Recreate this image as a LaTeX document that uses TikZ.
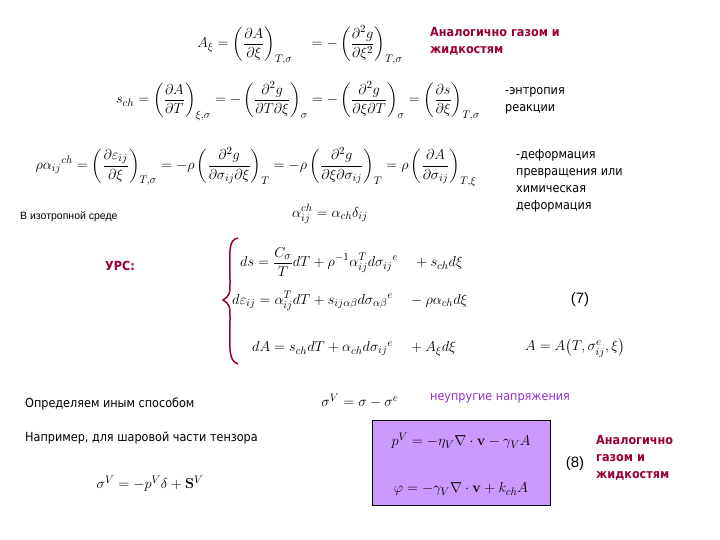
\documentclass[tikz,border=0pt]{standalone}
\usepackage{amsmath}
\usepackage[no-math]{fontspec}
\setmainfont{Liberation Sans}
\newfontfamily\cyr{DejaVu Sans Condensed}
\definecolor{dred}{HTML}{990033}
\definecolor{purp}{HTML}{9933CC}
\definecolor{boxc}{HTML}{CC99FF}
\begin{document}
\begin{tikzpicture}[x=1pt,y=-1pt,
 eq/.style={inner sep=0pt,font=\fontsize{15}{18}\selectfont},
 lab/.style={inner sep=0pt,anchor=west,align=left,font=\cyr\fontsize{12.5}{17}\selectfont},
 rlab/.style={lab,text=dred,font=\cyr\bfseries\fontsize{12.5}{17}\selectfont}]
\useasboundingbox[fill=white] (0,0) rectangle (720,540);
\node[eq] (e1) at (300,45) {$\displaystyle A_\xi=\left(\frac{\partial A}{\partial\xi}\right)_{T,\sigma}\quad=-\left(\frac{\partial^2 g}{\partial\xi^2}\right)_{T,\sigma}$};
\node[rlab] (t1) at (430,41) {Аналогично газом и\\жидкостям};
\node[eq] (e2) at (298,101) {$\displaystyle s_{ch}=\left(\frac{\partial A}{\partial T}\right)_{\xi,\sigma}=-\left(\frac{\partial^2 g}{\partial T\partial\xi}\right)_{\sigma}=-\left(\frac{\partial^2 g}{\partial\xi\partial T}\right)_{\sigma}=\left(\frac{\partial s}{\partial\xi}\right)_{T,\sigma}$};
\node[lab] (t2) at (505,101) {-энтропия\\реакции};
\node[eq] (e3) at (256,167) {$\displaystyle \rho\alpha_{ij}{}^{ch}=\left(\frac{\partial\varepsilon_{ij}}{\partial\xi}\right)_{T,\sigma}=-\rho\left(\frac{\partial^2 g}{\partial\sigma_{ij}\partial\xi}\right)_{T}=-\rho\left(\frac{\partial^2 g}{\partial\xi\partial\sigma_{ij}}\right)_{T}=\rho\left(\frac{\partial A}{\partial\sigma_{ij}}\right)_{T,\xi}$};
\node[lab] (t3) at (516,181) {-деформация\\превращения или\\химическая\\деформация};
\node[lab,font=\fontsize{10.5}{12}\selectfont] (t4) at (20,217) {В изотропной среде};
\node[eq] (e4) at (330,214) {$\alpha^{ch}_{ij}=\alpha_{ch}\delta_{ij}$};
\node[rlab] (t5) at (105,266) {УРС:};
\draw[dred,line width=1.5pt] (238,238) .. controls (228,240) and (230,250) .. (230,280) .. controls (230,295) .. (223,300) .. controls (230,305) .. (230,320) .. controls (230,350) and (228,360) .. (238,364);
\node[eq,anchor=west] (e5) at (240,262) {$\displaystyle ds=\frac{C_\sigma}{T}dT+\rho^{-1}\alpha^T_{ij}d\sigma_{ij}{}^e\quad+s_{ch}d\xi$};
\node[eq,anchor=west] (e6) at (232,301) {$d\varepsilon_{ij}=\alpha^T_{ij}dT+s_{ij\alpha\beta}d\sigma_{\alpha\beta}{}^e\quad-\rho\alpha_{ch}d\xi$};
\node[eq,anchor=west] (e7) at (252,349) {$dA=s_{ch}dT+\alpha_{ch}d\sigma_{ij}{}^e\quad+A_\xi d\xi$};
\node[eq] (n7) at (580,300) {(7)};
\node[eq,anchor=west] (e8) at (525,348) {$A=A\bigl(T,\sigma^e_{ij},\xi\bigr)$};
\node[lab] (t6) at (25,404) {Определяем иным способом};
\node[eq] (e9) at (360,401) {$\sigma^V=\sigma-\sigma^e$};
\node[lab,text=purp] (t7) at (430,398) {неупругие напряжения};
\node[lab] (t8) at (25,438) {Например, для шаровой части тензора};
\node[eq] (e10) at (150,484) {$\sigma^V=-p^V\delta+\mathbf{S}^V$};
\node[draw=black,fill=boxc,minimum width=178pt,minimum height=85pt,inner sep=0pt] (box) at (461,462.5) {};
\node[eq] (e11) at (461,441) {$p^V=-\eta_V\nabla\cdot\mathbf{v}-\gamma_V A$};
\node[eq] (e12) at (461,489) {$\varphi=-\gamma_V\nabla\cdot\mathbf{v}+k_{ch}A$};
\node[eq] (n8) at (575,464) {(8)};
\node[rlab] (t9) at (596,458) {Аналогично\\газом и\\жидкостям};
\end{tikzpicture}
\end{document}
